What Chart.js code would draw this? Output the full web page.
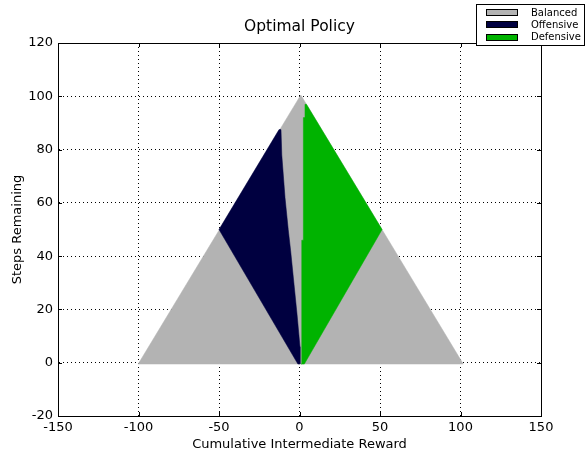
<!DOCTYPE html>
<html>
<head>
<meta charset="utf-8">
<script src="https://cdn.jsdelivr.net/npm/chart.js@4/dist/chart.umd.min.js"></script>
<style>
  html, body { margin: 0; padding: 0; background: #ffffff; }
  canvas { display: block; }
</style>
</head>
<body>
<canvas id="policy" width="586" height="450"></canvas>
<script>
// Policy names, in legend order
const policyNames = ['Balanced', 'Offensive', 'Defensive'];

// Axis ticks
const rewardTicks = [-150, -100, -50, 0, 50, 100, 150];
const stepTicks = [-20, 0, 20, 40, 60, 80, 100, 120];

// Outline of the region where the balanced policy is chosen (reward, steps)
const balancedReward = [-100.2, 0.8, 101.7, -100.2];
const balancedSteps  = [-0.5, 100.5, -0.5, -0.5];

// Outline of the offensive region
const offensiveReward = [-50, -12.7, -11.5, -11, -9, -7, -5.5, -3.5, -1.5, 0.3, 0.3, -1, -50];
const offensiveSteps  = [50, 87.5, 87.5, 78, 62, 50, 42, 30, 18, 6, -0.5, -0.5, 50];

// Outline of the defensive region
const defensiveReward = [3.4, 4.3, 51.3, 3, 1.0, 1.4, 2.4, 2.4, 3.4, 3.4];
const defensiveSteps  = [97, 97, 50, -0.5, -0.5, 46, 46, 92, 92, 97];

const toPoints = (xs, ys) => xs.map((x, i) => ({ x: x, y: ys[i] }));

const colors = { Balanced: '#b3b3b3', Offensive: '#000040', Defensive: '#00b300' };

Chart.defaults.font.family = "'DejaVu Sans', sans-serif";
Chart.defaults.color = '#000000';

function regionDataset(name, xs, ys, order) {
  return {
    label: name,
    data: toPoints(xs, ys),
    showLine: true,
    fill: 'shape',
    backgroundColor: colors[name],
    borderColor: colors[name],
    borderWidth: 0.5,
    pointRadius: 0,
    tension: 0,
    yAxisID: 'y',
    order: order
  };
}

// Frame on all four sides with inward tick marks
const framePlugin = {
  id: 'frame',
  afterDraw(chart) {
    const { ctx, chartArea: a, scales } = chart;
    ctx.save();
    ctx.strokeStyle = '#000000';
    ctx.lineWidth = 1;
    ctx.strokeRect(Math.round(a.left) + 0.5, Math.round(a.top) + 0.5,
                   Math.round(a.right - a.left), Math.round(a.bottom - a.top));
    const len = 4;
    ctx.beginPath();
    rewardTicks.forEach(v => {
      const px = Math.round(scales.x.getPixelForValue(v)) + 0.5;
      ctx.moveTo(px, a.bottom); ctx.lineTo(px, a.bottom - len);
      ctx.moveTo(px, a.top); ctx.lineTo(px, a.top + len);
    });
    stepTicks.forEach(v => {
      const py = Math.round(scales.y.getPixelForValue(v)) + 0.5;
      ctx.moveTo(a.left, py); ctx.lineTo(a.left + len, py);
      ctx.moveTo(a.right, py); ctx.lineTo(a.right - len, py);
    });
    ctx.stroke();
    ctx.restore();
  }
};

// Boxed legend in the upper right corner
const boxLegendPlugin = {
  id: 'boxLegend',
  afterDraw(chart) {
    const { ctx } = chart;
    const box = { x: 476.5, y: 4.5, w: 108, h: 41 };
    ctx.save();
    ctx.fillStyle = '#ffffff';
    ctx.fillRect(box.x, box.y, box.w, box.h);
    ctx.strokeStyle = '#000000';
    ctx.lineWidth = 1;
    ctx.strokeRect(box.x, box.y, box.w, box.h);
    ctx.font = "10px 'DejaVu Sans', sans-serif";
    ctx.textBaseline = 'middle';
    ctx.textAlign = 'left';
    policyNames.forEach((name, i) => {
      const ds = chart.data.datasets.find(d => d.label === name);
      const cy = 13 + i * 12.3;
      ctx.fillStyle = ds.backgroundColor;
      ctx.fillRect(486.5, Math.round(cy) - 3.5, 31, 6);
      ctx.strokeStyle = '#000000';
      ctx.strokeRect(486.5, Math.round(cy) - 3.5, 31, 6);
      ctx.fillStyle = '#000000';
      ctx.fillText(name, 531, cy);
    });
    ctx.restore();
  }
};

new Chart(document.getElementById('policy'), {
  type: 'scatter',
  data: {
    datasets: [
      regionDataset('Balanced', balancedReward, balancedSteps, 3),
      regionDataset('Offensive', offensiveReward, offensiveSteps, 1),
      regionDataset('Defensive', defensiveReward, defensiveSteps, 2)
    ]
  },
  options: {
    responsive: false,
    animation: false,
    devicePixelRatio: 1,
    layout: { padding: { left: 13, right: 0, top: 0, bottom: 0 } },
    plugins: {
      legend: { display: false },
      tooltip: { enabled: false },
      title: {
        display: true,
        text: 'Optimal Policy',
        font: { size: 15.5, weight: 'normal' },
        color: '#000000',
        padding: { top: 18, bottom: 6.4 }
      }
    },
    scales: {
      x: {
        type: 'linear',
        min: -150, max: 150,
        afterFit(scale) { scale.height = 34; },
        afterBuildTicks(scale) { scale.ticks = rewardTicks.map(v => ({ value: v })); },
        ticks: { font: { size: 13 }, padding: 4, maxRotation: 0, autoSkip: false },
        grid: { color: '#000000', lineWidth: 1, drawTicks: false },
        border: { display: true, color: '#000000', width: 1, dash: [1, 3] },
        title: {
          display: true,
          text: 'Cumulative Intermediate Reward',
          font: { size: 13, lineHeight: 1 },
          padding: { top: 0, bottom: -1 }
        }
      },
      y: {
        type: 'linear',
        position: 'left',
        min: -20, max: 120,
        afterFit(scale) { scale.width = 45; },
        afterBuildTicks(scale) { scale.ticks = stepTicks.map(v => ({ value: v })); },
        ticks: { font: { size: 13 }, padding: 5, autoSkip: false },
        grid: { color: '#000000', lineWidth: 1, drawTicks: false },
        border: { display: true, color: '#000000', width: 1, dash: [1, 3] },
        title: {
          display: true,
          text: 'Steps Remaining',
          font: { size: 13, lineHeight: 1 },
          padding: { top: -2, bottom: 0 }
        }
      },
      yRight: {
        type: 'linear',
        position: 'right',
        display: true,
        min: -20, max: 120,
        afterFit(scale) { scale.width = 45; },
        ticks: { display: false },
        grid: { display: false, drawTicks: false },
        border: { display: false }
      }
    }
  },
  plugins: [framePlugin, boxLegendPlugin]
});
</script>
</body>
</html>
